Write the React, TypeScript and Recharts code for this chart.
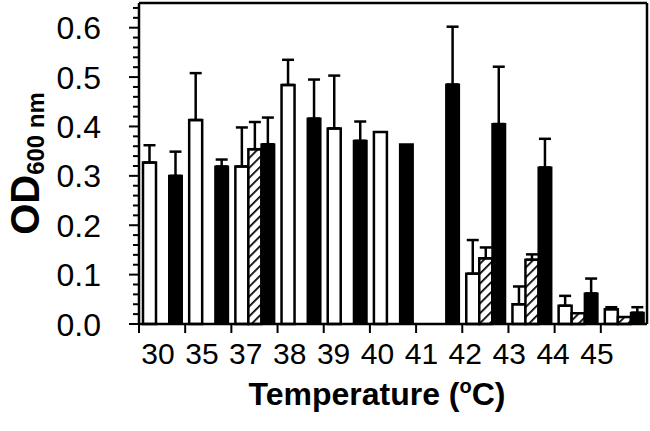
import { BarChart, Bar, XAxis, YAxis, ErrorBar, Label } from 'recharts';

const temps = ['30', '35', '37', '38', '39', '40', '41', '42', '43', '44', '45'];

// mean OD600 and SD (upper error only) per temperature
const whiteOD = [0.327, 0.413, 0.319, 0.484, 0.396, 0.389, null, 0.102, 0.04, 0.037, 0.03];
const whiteSD = [0.035, 0.095, 0.079, 0.051, 0.107, null, null, 0.068, 0.036, 0.02, 0.004];
const hatchOD = [null, null, 0.354, null, null, null, null, 0.133, 0.13, 0.022, 0.014];
const hatchSD = [null, null, 0.055, null, null, null, null, 0.022, 0.011, null, null];
const blackOD = [0.3, 0.319, 0.364, 0.416, 0.371, 0.364, 0.485, 0.405, 0.317, 0.062, 0.023];
const blackSD = [0.049, 0.014, 0.054, 0.079, 0.039, null, 0.117, 0.116, 0.058, 0.03, 0.011];

const yTicks = [
  0, 0.02, 0.04, 0.06, 0.08, 0.1, 0.12, 0.14, 0.16, 0.18, 0.2, 0.22, 0.24, 0.26, 0.28, 0.3, 0.32,
  0.34, 0.36, 0.38, 0.4, 0.42, 0.44, 0.46, 0.48, 0.5, 0.52, 0.54, 0.56, 0.58, 0.6, 0.62, 0.64,
];
const yLabels = [0, 0.1, 0.2, 0.3, 0.4, 0.5, 0.6];

const FONT = '"Liberation Sans", Arial, sans-serif';
const INK = '#000';

const upper = (v: number | null) => (v == null ? null : [0, v]);

const rows = temps.map((t, i) => ({
  temp: t,
  white: whiteOD[i],
  whiteErr: upper(whiteSD[i]),
  hatch: hatchOD[i],
  hatchErr: upper(hatchSD[i]),
  black: blackOD[i],
  blackErr: upper(blackSD[i]),
}));

function YTick({ x, y, payload }: any) {
  const major = yLabels.includes(payload.value);
  return (
    <g>
      <line x1={x} x2={x - (major ? 10 : 6)} y1={y} y2={y} stroke={INK} strokeWidth={2} />
      {major && (
        <text x={x - 38} y={y} dy="0.36em" textAnchor="end" fontSize={32} fontFamily={FONT} fill={INK}>
          {payload.value.toFixed(1)}
        </text>
      )}
    </g>
  );
}

// tick mark on the left boundary of each temperature group
function EdgeTick({ x, y, payload }: any) {
  const bx = x - (payload.offset ?? 0);
  return <line x1={bx} x2={bx} y1={y} y2={y + 9} stroke={INK} strokeWidth={2} />;
}

function XTick({ x, y, payload }: any) {
  return (
    <text x={x} y={y + 31} textAnchor="middle" fontSize={30} fontFamily={FONT} fill={INK}>
      {payload.value}
    </text>
  );
}

function YTitle({ viewBox }: any) {
  const cy = viewBox.y + viewBox.height / 2;
  return (
    <text
      transform={`translate(39, ${cy}) rotate(-90)`}
      textAnchor="middle"
      fontFamily={FONT}
      fontWeight="bold"
      fill={INK}
    >
      <tspan fontSize={40}>OD</tspan>
      <tspan fontSize={24} dy={5}>600 nm</tspan>
    </text>
  );
}

function XTitle({ viewBox }: any) {
  return (
    <text
      x={viewBox.x + viewBox.width / 2 - 16}
      y={viewBox.y + 72}
      textAnchor="middle"
      fontFamily={FONT}
      fontWeight="bold"
      fontSize={32}
      fill={INK}
    >
      Temperature (<tspan fontSize={20} dy={-12}>o</tspan>
      <tspan dy={12}>C)</tspan>
    </text>
  );
}

export default function App() {
  return (
    <div style={{ position: 'absolute', left: 0, top: 0, background: '#fff' }}>
      <BarChart
        width={650}
        height={431}
        data={rows}
        margin={{ top: 2, right: 2, bottom: 0, left: 0 }}
        barCategoryGap={4}
        barGap={0}
      >
        <defs>
          <pattern id="hatch" patternUnits="userSpaceOnUse" width={7} height={7} patternTransform="rotate(45)">
            <rect width={7} height={7} fill="#fff" />
            <line x1={0} y1={0} x2={0} y2={7} stroke={INK} strokeWidth={3.5} />
          </pattern>
        </defs>
        <XAxis
          xAxisId="a_cat"
          dataKey="temp"
          interval={0}
          tick={<EdgeTick />}
          tickLine={false}
          tickSize={0}
          tickMargin={0}
          height={9}
          axisLine={{ stroke: INK, strokeWidth: 2.5 }}
        />
        <XAxis
          xAxisId="b_lab"
          dataKey="temp"
          scale="point"
          padding={{ left: 19, right: 50 }}
          interval={0}
          axisLine={false}
          tickLine={false}
          tickSize={0}
          tickMargin={0}
          tick={<XTick />}
          height={98}
        >
          <Label content={<XTitle />} />
        </XAxis>
        <XAxis
          xAxisId="top"
          orientation="top"
          type="number"
          domain={[0, 1]}
          height={1}
          tick={false}
          tickLine={false}
          axisLine={{ stroke: INK, strokeWidth: 2.5 }}
        />
        <YAxis
          yAxisId="od"
          domain={[0, 0.65]}
          ticks={yTicks}
          interval={0}
          tick={<YTick />}
          tickLine={false}
          tickSize={0}
          tickMargin={0}
          width={139}
          axisLine={{ stroke: INK, strokeWidth: 2.5 }}
        >
          <Label content={<YTitle />} />
        </YAxis>
        <YAxis
          yAxisId="right"
          orientation="right"
          domain={[0, 1]}
          width={1}
          tick={false}
          tickLine={false}
          axisLine={{ stroke: INK, strokeWidth: 2.5 }}
        />
        <Bar xAxisId="a_cat" yAxisId="od" dataKey="white" fill="#fff" stroke={INK} strokeWidth={2.5} isAnimationActive={false}>
          <ErrorBar dataKey="whiteErr" direction="y" width={6} stroke={INK} strokeWidth={2.5} isAnimationActive={false} />
        </Bar>
        <Bar xAxisId="a_cat" yAxisId="od" dataKey="hatch" fill="url(#hatch)" stroke={INK} strokeWidth={2.5} isAnimationActive={false}>
          <ErrorBar dataKey="hatchErr" direction="y" width={6} stroke={INK} strokeWidth={2.5} isAnimationActive={false} />
        </Bar>
        <Bar xAxisId="a_cat" yAxisId="od" dataKey="black" fill={INK} stroke={INK} strokeWidth={2} isAnimationActive={false}>
          <ErrorBar dataKey="blackErr" direction="y" width={6} stroke={INK} strokeWidth={2.5} isAnimationActive={false} />
        </Bar>
      </BarChart>
    </div>
  );
}
